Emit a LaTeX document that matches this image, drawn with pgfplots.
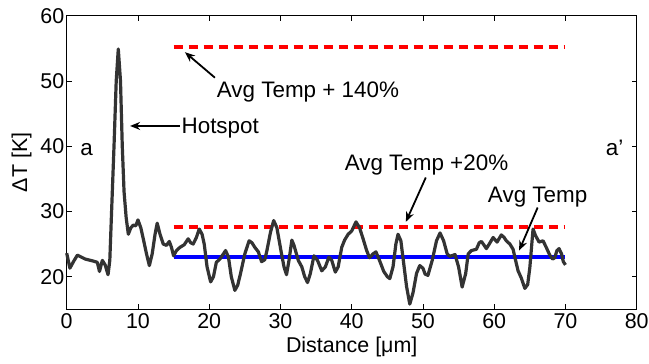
\documentclass[border=0pt]{standalone}
\usepackage{pgfplots}
\pgfplotsset{compat=1.18}
\usepackage{fontspec}
\setmainfont{Liberation Sans}
\usetikzlibrary{arrows.meta}
\definecolor{curve}{HTML}{333333}
\begin{document}
\begin{tikzpicture}
\begin{axis}[
  name=ax,
  scale only axis,
  width=570bp, height=293.6bp,
  xmin=0, xmax=80, ymin=15, ymax=60,
  xtick={0,10,...,80}, ytick={20,30,...,60},
  tick pos=both, tick align=inside,
  major tick length=5bp,
  axis line style={line width=0.8bp},
  tick style={line width=0.8bp, black},
  /pgf/number format/assume math mode=true,
  tick label style={font=\fontsize{21.5}{24}\selectfont},
  xticklabel style={yshift=-1bp},
  yticklabel style={xshift=1bp},
  label style={font=\fontsize{21.5}{24}\selectfont},
  xlabel={Distance [μm]},
  ylabel={ΔT [K]},
  xlabel style={at={(axis description cs:0.5,-0.129)}, anchor=center},
  ylabel style={at={(axis description cs:-0.079,0.5)}, anchor=center, rotate=0},
  clip=false,
]
\addplot[red, line width=3.3bp, dash pattern=on 9bp off 6bp] coordinates {(15,55.2) (70,55.2)};
\addplot[red, line width=3.3bp, dash pattern=on 9bp off 6bp] coordinates {(15,27.6) (70,27.6)};
\addplot[blue, line width=3.3bp] coordinates {(15,23.0) (70,23.0)};
\addplot[curve, line width=3.2bp, line join=round] table {
x y
0 23.6
0.45 21.3
1.0 22.4
1.5 23.3
2.6 22.7
3.7 22.4
4.3 22.2
4.6 20.8
5.0 22.5
5.4 21.8
5.8 20.3
6.05 22.5
6.3 30
6.64 40
6.95 50
7.24 54.9
7.55 50
7.8 40
8.05 33
8.35 29
8.65 26.5
9.0 27.5
9.35 27.9
9.7 27.8
10.0 28.7
10.4 27.5
10.75 25.8
11.2 23.5
11.6 21.7
12.0 23.5
12.4 26.5
12.7 28.2
13.1 26.5
13.55 25
14.0 24.8
14.4 25.4
14.7 24.5
15.0 23.2
15.4 24
15.9 24.5
16.5 24.9
17.05 25.8
17.4 25.2
17.75 25
18.2 26
18.6 27.3
19.0 26.5
19.3 25
19.7 21.5
20.2 19.2
20.6 20
21.0 22.2
21.5 22.7
22.0 23.5
22.3 24
22.7 23
23.1 20
23.6 17.9
24.0 18.7
24.4 20.5
25.0 23.5
25.6 25.5
26.0 25.2
26.4 24.5
26.9 23.8
27.35 22.3
27.8 22.6
28.1 24
28.6 26.8
29.05 28.6
29.5 27.5
30.15 23.5
30.5 21.5
30.85 20.3
31.2 22.5
31.6 25.6
31.9 24.8
32.5 22.5
33.0 21.5
33.4 20
33.8 19.1
34.2 20.5
34.7 23.2
35.2 22.5
35.8 20.9
36.3 21.5
36.8 23
37.2 22.5
37.7 20.7
38.1 21.5
38.6 24.5
39.0 25.6
39.5 26.5
40.0 27
40.6 28.4
41.1 27.5
41.6 25.8
42.1 24
42.5 22.9
43.0 23.5
43.4 23.8
43.9 22.5
44.5 20.8
45.0 20
45.35 19.7
45.8 21.5
46.2 25
46.5 26.5
46.9 25.5
47.3 22
47.7 18.5
48.15 15.8
48.6 17.5
49.1 20.5
49.55 21.7
50.0 21.3
50.3 20.4
50.7 20.2
51.3 22.5
51.9 25.5
52.4 26.7
52.9 25.5
53.4 23.5
53.8 23.1
54.5 23.4
55.0 21.5
55.5 18.4
56.0 20.5
56.35 23.5
56.8 24
57.5 24.2
57.9 25.2
58.2 25.4
58.6 24.8
58.9 24.3
59.3 25
59.85 26
60.4 25.3
61.0 26.4
61.4 26
61.7 25.5
62.2 25
62.65 24.2
63.0 22.5
63.35 20.9
63.8 19.8
64.3 18.2
64.7 18.8
65.0 21.4
65.2 24
65.45 27.3
65.8 26.3
66.3 25.3
66.85 25.5
67.3 24.5
67.8 23.3
68.2 22.7
68.5 22.9
68.8 24
69.1 24.3
69.45 23.5
69.7 22.3
70.0 21.8
};
\begin{scope}[font=\fontsize{22.5}{26}\selectfont]
\node[anchor=base, inner sep=0] at (axis cs:2.8,38.5) {a};
\node[anchor=base, inner sep=0] at (axis cs:76.9,38.5) {a’};
\node[anchor=base west, inner sep=0] at (axis cs:16.1,42.0) {Hotspot};
\node[anchor=base west, inner sep=0] at (axis cs:21.05,47.4) {Avg Temp + 140\%};
\node[anchor=base west, inner sep=0] at (axis cs:39.0,36.2) {Avg Temp +20\%};
\node[anchor=base west, inner sep=0] at (axis cs:59.1,31.4) {Avg Temp};
\end{scope}
\draw[line width=1.8bp, -{Stealth[length=10bp,width=8bp]}] (axis cs:15.9,43.1) -- (axis cs:8.9,43.1);
\draw[line width=1.8bp, -{Stealth[length=10bp,width=8bp]}] (axis cs:20.8,50.5) -- (axis cs:16.6,54.4);
\draw[line width=1.8bp, -{Stealth[length=10bp,width=8bp]}] (axis cs:50.4,35.2) -- (axis cs:47.6,28.4);
\draw[line width=1.8bp, -{Stealth[length=10bp,width=8bp]}] (axis cs:66.1,30.6) -- (axis cs:63.5,24);
\coordinate (SW) at (rel axis cs:0,0);
\coordinate (NE) at (rel axis cs:1,1);
\end{axis}
\pgfresetboundingbox
\useasboundingbox ([xshift=-66.7bp,yshift=-54.7bp]SW) rectangle ([xshift=12.3bp,yshift=15.7bp]NE);
\end{tikzpicture}
\end{document}
